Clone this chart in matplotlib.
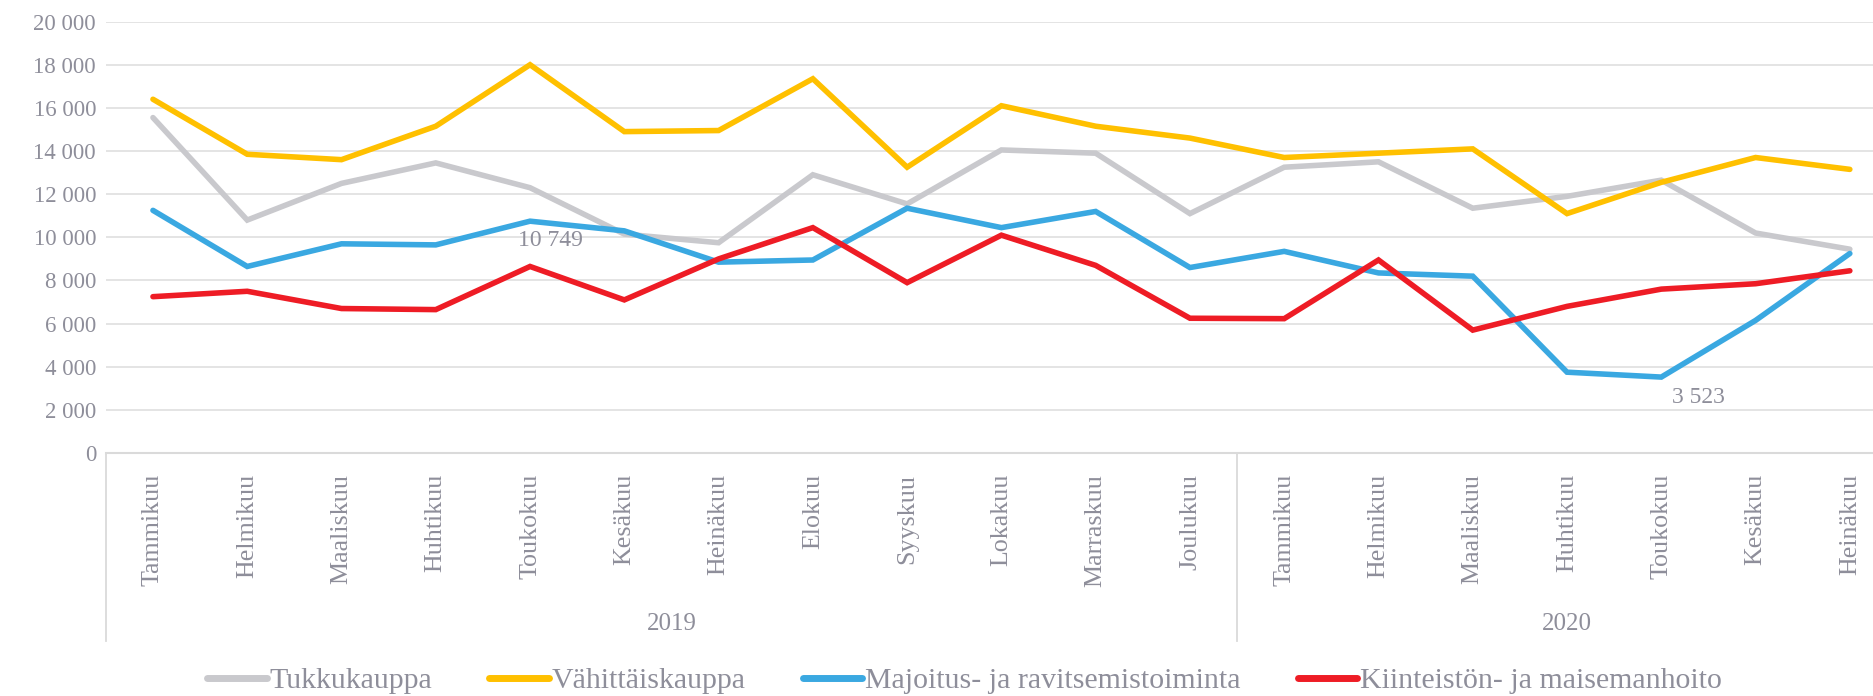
import matplotlib

matplotlib.use("Agg")
import matplotlib.pyplot as plt
from matplotlib.transforms import blended_transform_factory

months = ["Tammikuu", "Helmikuu", "Maaliskuu", "Huhtikuu", "Toukokuu", "Kesäkuu",
          "Heinäkuu", "Elokuu", "Syyskuu", "Lokakuu", "Marraskuu", "Joulukuu",
          "Tammikuu", "Helmikuu", "Maaliskuu", "Huhtikuu", "Toukokuu", "Kesäkuu",
          "Heinäkuu"]
years = ["2019", "2020"]
year_len = [12, 7]

tukku = [15550, 10800, 12500, 13450, 12300, 10150, 9750, 12900, 11550, 14050,
         13900, 11100, 13250, 13500, 11350, 11900, 12650, 10200, 9450]
vahit = [16400, 13850, 13600, 15150, 18000, 14900, 14950, 17350, 13250, 16100,
         15150, 14600, 13700, 13900, 14100, 11100, 12550, 13700, 13150]
majoitus = [11250, 8650, 9700, 9650, 10749, 10300, 8850, 8950, 11350, 10450,
            11200, 8600, 9350, 8350, 8200, 3750, 3523, 6150, 9250]
kiint = [7250, 7500, 6700, 6650, 8650, 7100, 9000, 10450, 7900, 10100,
         8700, 6250, 6230, 8950, 5700, 6800, 7600, 7850, 8450]

series = [
    ("Tukkukauppa", tukku, "#C9C9CD"),
    ("Vähittäiskauppa", vahit, "#FFC000"),
    ("Majoitus- ja ravitsemistoiminta", majoitus, "#3AA8E1"),
    ("Kiinteistön- ja maisemanhoito", kiint, "#EE1C25"),
]
# (series index, point index, offset in points)
labels = [(2, 4, (15, -14)), (2, 16, (27, -15))]

TXT = "#8E8E9A"
plt.rcParams["font.family"] = ["Liberation Serif", "DejaVu Serif"]

fig = plt.figure(figsize=(18.73, 6.96), dpi=100)
ax = fig.add_axes([0.0565, 0.349, 0.9563, 0.62])

x = list(range(len(months)))
for name, vals, c in series:
    ax.plot(x, vals, color=c, lw=4.0, label=name, solid_capstyle="round",
            solid_joinstyle="miter")

for si, pi, off in labels:
    v = series[si][1][pi]
    ax.annotate(f"{v:,}".replace(",", " "), (pi, v), xytext=off,
                textcoords="offset points", ha="center", va="center",
                fontsize=17, color=TXT)

ax.set_xlim(-0.5, len(months) - 0.5)
ax.set_ylim(0, 20000)
ax.set_yticks(range(0, 20001, 2000))
ax.set_yticklabels([f"{v:,}".replace(",", " ") for v in range(0, 20001, 2000)])
ax.set_xticks(x)
ax.set_xticklabels(months, rotation=90, va="top", ha="center")
ax.tick_params(axis="both", length=0, colors=TXT)
ax.tick_params(axis="x", pad=15, labelsize=18.7)
ax.tick_params(axis="y", pad=7, labelsize=16.5)
ax.grid(axis="y", color="#E2E2E2", lw=1.3)
ax.set_axisbelow(True)
for s in ["top", "right", "left"]:
    ax.spines[s].set_visible(False)
ax.spines["bottom"].set_color("#DADADA")
ax.spines["bottom"].set_linewidth(1.5)

# year grouping
tr = blended_transform_factory(ax.transData, ax.transAxes)
start = 0
for yr, n in zip(years, year_len):
    ax.plot([start - 0.5, start - 0.5], [0, -0.436], transform=tr,
            color="#DADADA", lw=1.3, clip_on=False)
    ax.text(start + (n - 1) / 2, -0.395, yr, transform=tr, ha="center",
            va="center", fontsize=18, color=TXT)
    start += n

leg = fig.legend(loc="center", bbox_to_anchor=(0.515, 0.022), ncol=4,
                 frameon=False, fontsize=21.5, handlelength=2.0,
                 handletextpad=0.1, columnspacing=1.9)
for t in leg.get_texts():
    t.set_color(TXT)
for h in leg.get_lines():
    h.set_linewidth(5)

fig.savefig("out.png", dpi=100)
